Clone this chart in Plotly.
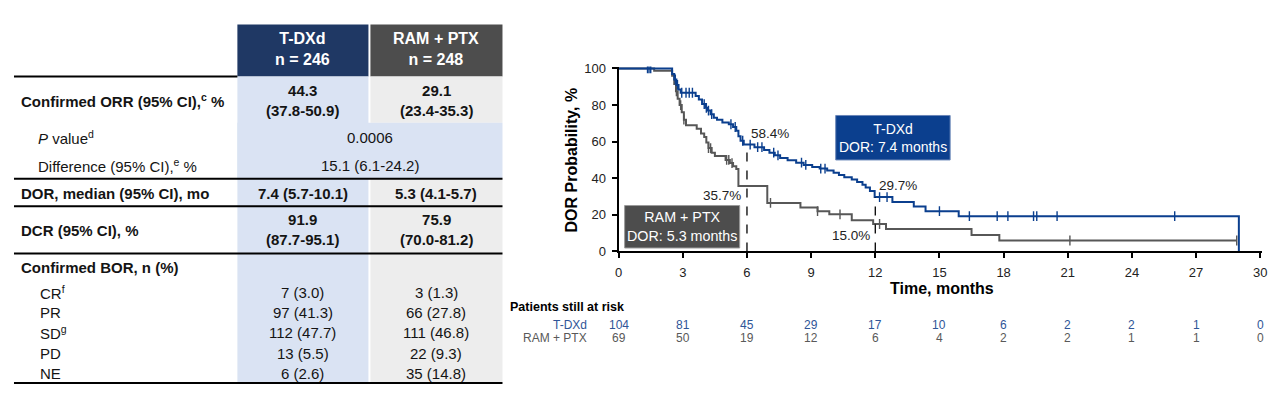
import numpy as np
import plotly.graph_objects as go

# Reference frame in pixels; the figure fills the window (minus the 8px body margin)
PAGE_W, PAGE_H = 1280, 398
OFF = 8
W, H = PAGE_W - 2 * OFF, PAGE_H - 2 * OFF
FONT = "Liberation Sans, Arial, sans-serif"
TXT = "#141414"

# ---------------- Data ----------------
# Table
arms = ["T-DXd", "RAM + PTX"]
arm_n = ["n = 246", "n = 248"]
orr = ["44.3<br>(37.8-50.9)", "29.1<br>(23.4-35.3)"]
p_value = "0.0006"
orr_difference = "15.1 (6.1-24.2)"
dor_median = ["7.4 (5.7-10.1)", "5.3 (4.1-5.7)"]
dcr = ["91.9<br>(87.7-95.1)", "75.9<br>(70.0-81.2)"]
bor_labels = ["CR<sup>f</sup>", "PR", "SD<sup>g</sup>", "PD", "NE"]
bor_tdxd = ["7 (3.0)", "97 (41.3)", "112 (47.7)", "13 (5.5)", "6 (2.6)"]
bor_ram = ["3 (1.3)", "66 (27.8)", "111 (46.8)", "22 (9.3)", "35 (14.8)"]

# Kaplan-Meier: T-DXd
tdxd_t = [0, 2.5, 2.6, 2.7, 2.8, 2.9, 3.6, 3.75, 3.9, 4.05, 4.15, 4.3, 4.45, 4.6, 4.85,
          5.15, 5.35, 5.5, 5.6, 5.7, 5.85, 6.35, 6.8, 7.05, 7.3, 7.55, 7.9, 8.3, 8.65,
          9.05, 9.4, 9.75, 10.05, 10.3, 10.55, 10.9, 11.15, 11.4, 11.55, 11.75, 11.97,
          12.8, 13.8, 14.35, 15.9, 29.0]
tdxd_s = [100, 97, 94, 91, 88.5, 86.7, 85, 83, 80.5, 78.5, 77, 75, 73, 72, 70.5,
          69.5, 68, 66, 63, 60.5, 58.4, 57, 55.5, 54, 52.5, 51, 49.8, 48.5, 47.3,
          46.2, 45.3, 44.3, 43, 41.8, 40.5, 39.3, 38, 36.5, 35, 33, 29.7,
          27, 24.5, 22, 19.3, 0]
tdxd_censor = [1.35, 1.42, 1.5, 2.65, 2.75, 2.95, 3.15, 3.3, 3.45, 4.0, 4.1, 4.2, 4.35,
               5.25, 5.45, 5.8, 6.15, 6.5, 6.7, 7.25, 7.45, 8.55, 8.75, 9.45, 9.65,
               12.2, 12.55, 15.0, 16.4, 17.7, 18.2, 19.4, 19.55, 20.5, 26.0]

# Kaplan-Meier: RAM + PTX
ram_t = [0, 1.66, 2.5, 2.6, 2.68, 2.76, 2.85, 2.95, 3.05, 3.15, 3.65, 3.85, 4.0, 4.1,
         4.2, 4.35, 4.5, 5.0, 5.2, 5.35, 5.5, 5.6, 6.95, 8.5, 9.3, 9.85, 10.9, 11.9,
         12.5, 16.5, 17.8]
ram_s = [100, 98.8, 96, 91.5, 87.5, 83.5, 80, 76, 72, 69, 67, 64.5, 62.5, 59.5,
         56.5, 54, 52.2, 50, 48.3, 46.5, 45, 35.7, 26.5, 24, 22, 20.3, 17, 15.0,
         12.3, 9.0, 6.0]
ram_censor = [2.7, 2.9, 3.05, 4.2, 4.3, 5.05, 5.15, 5.3, 7.1, 9.3, 10.35, 12.2, 21.1, 28.9]
ram_end = 28.9

# Milestones
milestone_months = [6, 12]
tdxd_milestone = [58.4, 29.7]
ram_milestone = [35.7, 15.0]
tdxd_median = "7.4"
ram_median = "5.3"

# At-risk table
risk_times = [0, 3, 6, 9, 12, 15, 18, 21, 24, 27, 30]
tdxd_risk = [104, 81, 45, 29, 17, 10, 6, 2, 2, 1, 0]
ram_risk = [69, 50, 19, 12, 6, 4, 2, 2, 1, 1, 0]

# ---------------- Colors ----------------
BLUE = "#0b3f8e"
GRAY = "#575757"
HDR_BLUE = "#1f3864"
HDR_GRAY = "#4d4d4d"
FILL_BLUE = "#dae3f3"
FILL_GRAY = "#ededed"
RISK_BLUE = "#2f5597"
RISK_GRAY = "#595959"


# page pixel -> paper fraction
def px(x):
    return (x - OFF) / W


def py(y):
    return 1 - (y - OFF) / H


def step_at(ts, ss, t):
    i = int(np.searchsorted(np.array(ts), t, side="right")) - 1
    return ss[max(i, 0)]


fig = go.Figure()

# ---------------- KM curves ----------------
fig.add_trace(go.Scatter(x=ram_t + [ram_end], y=ram_s + [ram_s[-1]], mode="lines",
                         line=dict(color=GRAY, width=2, shape="hv"), showlegend=False,
                         hoverinfo="skip"))
fig.add_trace(go.Scatter(x=ram_censor, y=[step_at(ram_t, ram_s, t) for t in ram_censor],
                         mode="markers",
                         marker=dict(symbol="line-ns", size=7, line=dict(color=GRAY, width=1.4)),
                         showlegend=False, hoverinfo="skip"))
fig.add_trace(go.Scatter(x=tdxd_t, y=tdxd_s, mode="lines",
                         line=dict(color=BLUE, width=2, shape="hv"), showlegend=False,
                         hoverinfo="skip"))
fig.add_trace(go.Scatter(x=tdxd_censor, y=[step_at(tdxd_t, tdxd_s, t) for t in tdxd_censor],
                         mode="markers",
                         marker=dict(symbol="line-ns", size=7, line=dict(color=BLUE, width=1.4)),
                         showlegend=False, hoverinfo="skip"))

# dashed milestone lines
for m, v in zip(milestone_months, tdxd_milestone):
    fig.add_trace(go.Scatter(x=[m, m], y=[0, v], mode="lines",
                             line=dict(color="black", width=1.3, dash="dash"),
                             showlegend=False, hoverinfo="skip"))

annotations = []
shapes = []


def ann(**kw):
    kw.setdefault("showarrow", False)
    kw.setdefault("xanchor", "center")
    kw.setdefault("yanchor", "middle")
    annotations.append(kw)


# milestone labels
ann(x=milestone_months[0] + 0.1, y=tdxd_milestone[0] + 6, xanchor="left",
    text=f"{tdxd_milestone[0]:.1f}%", font=dict(size=13.5, color="#222", family=FONT))
ann(x=milestone_months[1] + 0.1, y=tdxd_milestone[1] + 6.5, xanchor="left",
    text=f"{tdxd_milestone[1]:.1f}%", font=dict(size=13.5, color="#222", family=FONT))
ann(x=milestone_months[0] - 0.2, y=ram_milestone[0] - 5, xanchor="right",
    text=f"{ram_milestone[0]:.1f}%", font=dict(size=13.5, color="#222", family=FONT))
ann(x=milestone_months[1] - 0.15, y=ram_milestone[1] - 6.3, xanchor="right",
    text=f"{ram_milestone[1]:.1f}%", font=dict(size=13.5, color="#222", family=FONT))

# arm boxes (data coordinates)
shapes.append(dict(type="rect", xref="x", yref="y", x0=10.15, x1=15.5, y0=50.0, y1=74.3,
                   fillcolor=BLUE, line=dict(color="#6a86b8", width=1), layer="above"))
ann(x=12.82, y=62.2, text=f"T-DXd<br>DOR: {tdxd_median} months",
    font=dict(size=14, color="white", family=FONT))
shapes.append(dict(type="rect", xref="x", yref="y", x0=0.28, x1=5.66, y0=1.9, y1=25.1,
                   fillcolor=HDR_GRAY, line=dict(color="#9a9a9a", width=1), layer="above"))
ann(x=2.97, y=13.5, text=f"RAM + PTX<br>DOR: {ram_median} months",
    font=dict(size=14.3, color="white", family=FONT))

# axis titles
ann(xref="paper", yref="paper", x=px(945), y=py(293), text="<b>Time, months</b>",
    font=dict(size=16, color="black", family=FONT))
ann(xref="paper", yref="paper", x=px(571), y=py(159), text="<b>DOR Probability, %</b>",
    textangle=-90, font=dict(size=16, color="black", family=FONT))

# at-risk table
ann(xref="paper", yref="paper", x=px(508), y=py(312), xanchor="left",
    text="<b>Patients still at risk</b>", font=dict(size=12.5, color="black", family=FONT))
ann(xref="paper", yref="paper", x=px(589), y=py(330.5), xanchor="right", text=arms[0],
    font=dict(size=12, color=RISK_BLUE, family=FONT))
ann(xref="paper", yref="paper", x=px(589), y=py(344.5), xanchor="right", text=arms[1],
    font=dict(size=12, color=RISK_GRAY, family=FONT))
for t, a, b in zip(risk_times, tdxd_risk, ram_risk):
    ann(x=t, xref="x", yref="paper", y=py(330.5), text=str(a),
        font=dict(size=12, color=RISK_BLUE, family=FONT))
    ann(x=t, xref="x", yref="paper", y=py(344.5), text=str(b),
        font=dict(size=12, color=RISK_GRAY, family=FONT))


# ---------------- Table (left) ----------------
def prect(x0, y0, x1, y1, color):
    shapes.append(dict(type="rect", xref="paper", yref="paper", x0=px(x0), x1=px(x1),
                       y0=py(y1), y1=py(y0), fillcolor=color, line=dict(width=0),
                       layer="below"))


def hline(y, x0=10, x1=502):
    shapes.append(dict(type="line", xref="paper", yref="paper", x0=px(x0), x1=px(x1),
                       y0=py(y), y1=py(y), line=dict(color="black", width=2)))


def ptext(x, y, text, size=15, color=TXT, anchor="center", bold=False):
    if bold:
        text = f"<b>{text}</b>"
    ann(xref="paper", yref="paper", x=px(x), y=py(y), text=text, xanchor=anchor,
        align="center", font=dict(size=size, color=color, family=FONT))


C1L, C1R, C2L, C2R = 235, 367, 369, 502
C1 = (C1L + C1R) / 2
C2 = (C2L + C2R) / 2

prect(C1L, 19, C1R, 73, HDR_BLUE)
prect(C2L, 19, C2R, 73, HDR_GRAY)
prect(C1L, 73, C1R, 391, FILL_BLUE)
prect(C2L, 73, C2R, 121, FILL_GRAY)
prect(C1L, 121, C2R, 179, FILL_BLUE)
prect(C2L, 179, C2R, 391, FILL_GRAY)

hline(73, 10, C1L)
for y in [179, 207.5, 256.5, 391]:
    hline(y)

ptext(C1, 44, f"{arms[0]}<br>{arm_n[0]}", size=16, color="white", bold=True)
ptext(C2, 44, f"{arms[1]}<br>{arm_n[1]}", size=16, color="white", bold=True)

ptext(15, 98, "Confirmed ORR (95% CI),<sup>c</sup> %", anchor="left", bold=True)
ptext(C1, 98, orr[0], bold=True)
ptext(C2, 98, orr[1], bold=True)
ptext(32, 136, "<i>P</i> value<sup>d</sup>", anchor="left")
ptext((C1L + C2R) / 2, 136, p_value)
ptext(32, 165, "Difference (95% CI),<sup>e</sup> %", anchor="left")
ptext((C1L + C2R) / 2, 165, orr_difference)
ptext(15, 194, "DOR, median (95% CI), mo", anchor="left", bold=True)
ptext(C1, 194, dor_median[0], bold=True)
ptext(C2, 194, dor_median[1], bold=True)
ptext(15, 233, "DCR (95% CI), %", anchor="left", bold=True)
ptext(C1, 231.5, dcr[0], bold=True)
ptext(C2, 231.5, dcr[1], bold=True)
ptext(15, 271, "Confirmed BOR, n (%)", anchor="left", bold=True)
bor_y = [297, 318, 339, 360, 381]
for lab, a, b, y in zip(bor_labels, bor_tdxd, bor_ram, bor_y):
    ptext(34, y, lab, anchor="left")
    ptext(C1, y, a)
    ptext(C2, y, b)

# ---------------- Layout ----------------
x0_px, per_month = 619, 21.54
y0_px, per_pct = 254.5, 1.9
xr, yr = 30.1, 101

fig.update_layout(
    margin=dict(l=0, r=0, t=0, b=0),
    paper_bgcolor="white", plot_bgcolor="rgba(0,0,0,0)",
    font=dict(family=FONT, color="#222"),
    showlegend=False,
    xaxis=dict(domain=[px(x0_px), min(1.0, px(x0_px + xr * per_month))], range=[0, xr],
               tickvals=risk_times, ticks="outside", ticklen=5, tickwidth=1.5,
               tickcolor="black", showline=True, linewidth=2, linecolor="black",
               showgrid=False, zeroline=False, tickfont=dict(size=13, color="#222"),
               ticklabelstandoff=3, ticklabeloverflow="allow", fixedrange=True),
    yaxis=dict(domain=[py(y0_px), py(y0_px - yr * per_pct)], range=[0, yr],
               tickvals=[0, 20, 40, 60, 80, 100], ticks="outside", ticklen=5, tickwidth=1.5,
               tickcolor="black", showline=True, linewidth=2, linecolor="black",
               showgrid=False, zeroline=False, tickfont=dict(size=13, color="#222"),
               ticklabelstandoff=3, fixedrange=True),
    shapes=shapes,
    annotations=annotations,
)

# the figure fills the browser window exactly (window minus the default 8px body margin)
fig.write_html("out.html", config={"displayModeBar": False},
               default_width="calc(100vw - 16px)", default_height="calc(100vh - 16px)")
